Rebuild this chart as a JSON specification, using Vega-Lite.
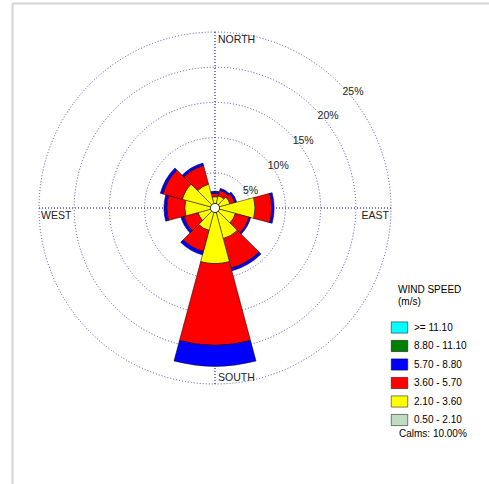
{
  "$schema": "https://vega.github.io/schema/vega-lite/v6.json",
  "width": 406,
  "height": 410,
  "autosize": {"type": "none"},
  "padding": {"left": 12, "top": 3, "right": 71, "bottom": 71},
  "background": "white",
  "config": {"view": {"stroke": null}, "font": "Liberation Sans"},
  "datasets": {
    "wind": [
      {"dir": 0, "speed": "2.10 - 3.60", "pct": 1.6},
      {"dir": 0, "speed": "3.60 - 5.70", "pct": 0.5},
      {"dir": 0, "speed": "5.70 - 8.80", "pct": 0.3},
      {"dir": 30, "speed": "2.10 - 3.60", "pct": 1.8},
      {"dir": 30, "speed": "3.60 - 5.70", "pct": 0.8},
      {"dir": 30, "speed": "5.70 - 8.80", "pct": 0.3},
      {"dir": 60, "speed": "2.10 - 3.60", "pct": 2.2},
      {"dir": 60, "speed": "3.60 - 5.70", "pct": 0.7},
      {"dir": 60, "speed": "5.70 - 8.80", "pct": 0.3},
      {"dir": 90, "speed": "2.10 - 3.60", "pct": 5.7},
      {"dir": 90, "speed": "3.60 - 5.70", "pct": 2.35},
      {"dir": 90, "speed": "5.70 - 8.80", "pct": 0.35},
      {"dir": 120, "speed": "2.10 - 3.60", "pct": 3.0},
      {"dir": 120, "speed": "3.60 - 5.70", "pct": 2.0},
      {"dir": 120, "speed": "5.70 - 8.80", "pct": 0.25},
      {"dir": 150, "speed": "2.10 - 3.60", "pct": 4.5},
      {"dir": 150, "speed": "3.60 - 5.70", "pct": 4.35},
      {"dir": 150, "speed": "5.70 - 8.80", "pct": 0.4},
      {"dir": 180, "speed": "2.10 - 3.60", "pct": 7.9},
      {"dir": 180, "speed": "3.60 - 5.70", "pct": 11.6},
      {"dir": 180, "speed": "5.70 - 8.80", "pct": 3.0},
      {"dir": 210, "speed": "2.10 - 3.60", "pct": 3.3},
      {"dir": 210, "speed": "3.60 - 5.70", "pct": 3.1},
      {"dir": 210, "speed": "5.70 - 8.80", "pct": 0.5},
      {"dir": 240, "speed": "2.10 - 3.60", "pct": 2.5},
      {"dir": 240, "speed": "3.60 - 5.70", "pct": 2.1},
      {"dir": 240, "speed": "5.70 - 8.80", "pct": 0.4},
      {"dir": 270, "speed": "2.10 - 3.60", "pct": 4.3},
      {"dir": 270, "speed": "3.60 - 5.70", "pct": 2.55},
      {"dir": 270, "speed": "5.70 - 8.80", "pct": 0.4},
      {"dir": 300, "speed": "2.10 - 3.60", "pct": 4.8},
      {"dir": 300, "speed": "3.60 - 5.70", "pct": 2.85},
      {"dir": 300, "speed": "5.70 - 8.80", "pct": 0.4},
      {"dir": 330, "speed": "2.10 - 3.60", "pct": 3.5},
      {"dir": 330, "speed": "3.60 - 5.70", "pct": 2.75},
      {"dir": 330, "speed": "5.70 - 8.80", "pct": 0.35}
    ],
    "rings": [
      {"ring": 5, "label": "5%"},
      {"ring": 10, "label": "10%"},
      {"ring": 15, "label": "15%"},
      {"ring": 20, "label": "20%"},
      {"ring": 25, "label": "25%"}
    ],
    "axes": [{"dir": 0}, {"dir": 90}, {"dir": 180}, {"dir": 270}]
  },
  "layer": [
    {
      "data": {"values": [{}]},
      "mark": {"type": "point", "opacity": 0},
      "encoding": {
        "x": {"datum": 0, "type": "quantitative", "scale": {"domain": [0, 1], "range": [0, 477]},
              "axis": {"orient": "top", "domainColor": "#d4d4d4", "domainWidth": 2, "ticks": false, "labels": false, "grid": false, "title": null}},
        "y": {"datum": 0, "type": "quantitative", "scale": {"domain": [0, 1], "range": [0, 481]},
              "axis": {"orient": "left", "domainColor": "#d4d4d4", "domainWidth": 2, "ticks": false, "labels": false, "grid": false, "title": null}}
      }
    },
    {
      "data": {"name": "rings"},
      "mark": {"type": "arc", "theta": 0, "theta2": 6.2832, "filled": false, "stroke": "#5050b0", "strokeWidth": 1, "strokeDash": [1, 2]},
      "encoding": {
        "radius": {"field": "ring", "type": "quantitative", "stack": null, "scale": {"type": "linear", "domain": [0, 25], "range": [0, 176], "zero": true}}
      }
    },
    {
      "data": {"name": "axes"},
      "mark": {"type": "arc", "filled": false, "stroke": "#5050b0", "strokeWidth": 1, "strokeDash": [1, 2]},
      "encoding": {
        "theta": {"field": "dir", "type": "quantitative", "stack": null, "scale": {"type": "linear", "domain": [0, 360], "range": [0, 6.283185307]}},
        "theta2": {"field": "dir"},
        "radius": {"datum": 25, "type": "quantitative"},
        "radius2": {"datum": 0}
      }
    },
    {
      "data": {"name": "wind"},
      "transform": [
        {"stack": "pct", "groupby": ["dir"], "sort": [{"field": "speed", "order": "ascending"}], "as": ["r0", "r1"]}
      ],
      "mark": {"type": "arc", "stroke": "black", "strokeWidth": 0.5, "thetaOffset": -0.2618, "theta2Offset": 0.2618},
      "encoding": {
        "theta": {"field": "dir", "type": "quantitative", "stack": null},
        "theta2": {"field": "dir"},
        "radius": {"field": "r1", "type": "quantitative", "stack": null},
        "radius2": {"field": "r0"},
        "fill": {
          "field": "speed", "type": "nominal",
          "scale": {
            "domain": [">= 11.10", "8.80 - 11.10", "5.70 - 8.80", "3.60 - 5.70", "2.10 - 3.60", "0.50 - 2.10"],
            "range": ["#00ffff", "#008000", "#0000ff", "#ff0000", "#ffff00", "#c0dcc0"]
          },
          "legend": {
            "orient": "none", "legendX": 379, "legendY": 282, "padding": 0,
            "title": ["WIND SPEED", "(m/s)"], "titleFont": "Liberation Sans", "titleFontSize": 10, "titleFontWeight": "normal", "titleColor": "black", "titleLineHeight": 12, "titlePadding": 12,
            "symbolType": "M-1,-0.68H1V0.68H-1Z", "symbolSize": 272, "symbolStrokeColor": "black", "symbolStrokeWidth": 0.5, "symbolOpacity": 1,
            "labelFont": "Liberation Sans", "labelFontSize": 10, "labelColor": "black", "labelOffset": 6, "rowPadding": 2.5,
            "encode": {"title": {"update": {"dx": {"value": 7}}}}
          }
        }
      }
    },
    {
      "data": {"values": [{"calm": "Calms: 10.00%"}]},
      "mark": {"type": "arc", "theta": 0, "theta2": 6.2832, "fill": "white", "strokeWidth": 0.8},
      "encoding": {
        "radius": {"datum": 0.65, "type": "quantitative"},
        "stroke": {
          "field": "calm", "type": "nominal", "scale": {"range": ["black"]},
          "legend": {
            "orient": "none", "legendX": 377, "legendY": 426, "padding": 0, "title": null,
            "symbolOpacity": 0, "symbolSize": 1, "labelOffset": 0,
            "labelFont": "Liberation Sans", "labelFontSize": 10, "labelColor": "black"
          }
        }
      }
    },
    {
      "data": {"name": "rings"},
      "mark": {"type": "text", "align": "left", "baseline": "middle", "dx": 3, "dy": 8, "font": "Liberation Sans", "fontSize": 10.5, "color": "#222222"},
      "encoding": {
        "theta": {"datum": 45, "type": "quantitative"},
        "radius": {"field": "ring", "type": "quantitative", "stack": null},
        "text": {"field": "label"}
      }
    },
    {
      "data": {"values": [{"label": "NORTH"}]},
      "mark": {"type": "text", "align": "left", "baseline": "top", "dx": 3, "dy": 3, "font": "Liberation Sans", "fontSize": 10.5, "color": "#222222"},
      "encoding": {"theta": {"datum": 0, "type": "quantitative"}, "radius": {"datum": 25, "type": "quantitative"}, "text": {"field": "label"}}
    },
    {
      "data": {"values": [{"label": "SOUTH"}]},
      "mark": {"type": "text", "align": "left", "baseline": "bottom", "dx": 3, "dy": -1, "font": "Liberation Sans", "fontSize": 10.5, "color": "#222222"},
      "encoding": {"theta": {"datum": 180, "type": "quantitative"}, "radius": {"datum": 25, "type": "quantitative"}, "text": {"field": "label"}}
    },
    {
      "data": {"values": [{"label": "WEST"}]},
      "mark": {"type": "text", "align": "left", "baseline": "top", "dx": 2, "dy": 3, "font": "Liberation Sans", "fontSize": 10.5, "color": "#222222"},
      "encoding": {"theta": {"datum": 270, "type": "quantitative"}, "radius": {"datum": 25, "type": "quantitative"}, "text": {"field": "label"}}
    },
    {
      "data": {"values": [{"label": "EAST"}]},
      "mark": {"type": "text", "align": "right", "baseline": "top", "dx": -2, "dy": 3, "font": "Liberation Sans", "fontSize": 10.5, "color": "#222222"},
      "encoding": {"theta": {"datum": 90, "type": "quantitative"}, "radius": {"datum": 25, "type": "quantitative"}, "text": {"field": "label"}}
    }
  ]
}
